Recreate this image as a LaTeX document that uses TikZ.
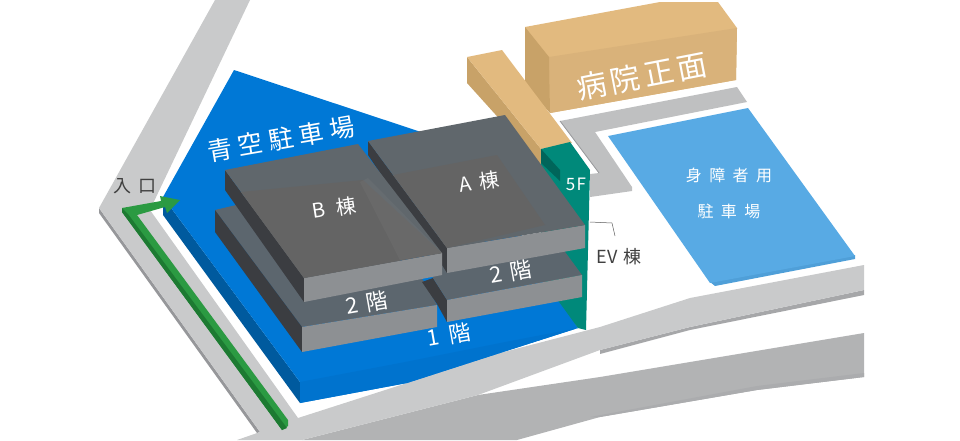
\documentclass[tikz,border=0pt]{standalone}
\usepackage{fontspec}
\setmainfont{Noto Sans CJK JP}
\usepackage{tikz}
\definecolor{roadlight}{HTML}{C9CACB}
\definecolor{roaddark}{HTML}{B2B3B4}
\definecolor{roadedge}{HTML}{96979A}
\definecolor{lotblue}{HTML}{0078D6}
\definecolor{lotfront}{HTML}{0073CE}
\definecolor{lotside}{HTML}{005A9E}
\definecolor{parkblue}{HTML}{58AAE4}
\definecolor{parkedge}{HTML}{4F9FD8}
\definecolor{tantop}{HTML}{E2BA7F}
\definecolor{tanside}{HTML}{C8A268}
\definecolor{evtop}{HTML}{00897A}
\definecolor{evside}{HTML}{00655A}
\definecolor{slabband}{HTML}{60676C}
\definecolor{slabinner}{HTML}{646464}
\definecolor{slabside}{HTML}{3B3D41}
\definecolor{slabfront}{HTML}{8D9093}
\definecolor{floortop}{HTML}{5C666E}
\definecolor{arrowgreen}{HTML}{2B9A42}
\definecolor{arrowdark}{HTML}{1D7A32}
\tikzset{
  lab/.style={text=white,inner sep=0pt},
  darklab/.style={text=black!75,inner sep=0pt},
}
\newcommand{\fs}[2]{\fontsize{#1}{#1}\selectfont\addfontfeature{LetterSpace=#2}}
\begin{document}
\begin{tikzpicture}[x=1pt,y=-1pt]
\useasboundingbox (0,0) rectangle (960,440);
% roads
\fill[roaddark] (478,395)--(600,377)--(690,362)--(864,333)--(864,377)--(757,390)--(600,417)--(517,440)--(302,440)--cycle;
\fill[roadedge!80] (864,373)--(864,377)--(757,390)--(600,417)--(590,417)--(757,386)--cycle;
\fill[roadedge] (99,208)--(260,432)--(257,433)--(99,213)--cycle;
\fill[roadedge!85] (864,290)--(864,295)--(690,330)--(600,354)--(600,350)--(690,327)--cycle;
\fill[roadlight] (215,0)--(250,0)--(158,193)--(150,210)--(298,418)--(407,383)--(500,353)--(600,327)--(690,298)--(864,265)--(864,290)--(690,327)--(600,350)--(478,395)--(302,440)--(237,440)--(260,432)--(99,208)--cycle;
% L shaped road
\fill[roadlight!95!black] (560,121)--(737,87)--(747,102)--(595,132)--(632,187)--(632,191)--(590,197)--(590,174)--(599,173)--cycle;
\draw[roadedge,line width=0.8pt] (560,121)--(599,173);
% disabled parking
\fill[parkedge] (710,282)--(855,255)--(855,259)--(715,286)--cycle;
\fill[parkblue] (608,136)--(748,108)--(855,256)--(710,283)--cycle;
% main hospital
\fill[tantop] (525,27)--(660,2)--(718,2)--(737,28)--(736,80)--(550,113)--cycle;
\fill[tantop!96!black] (549,57)--(737,28)--(736,80)--(550,113)--cycle;
\fill[tanside] (525,27)--(549,57)--(550,113)--(525,85)--cycle;
% corridor
\fill[tanside] (467,57)--(467,83)--(541,165)--(541,149)--cycle;
\fill[tantop] (467,57)--(502,50)--(572,143)--(541,149)--cycle;
% blue lot
\fill[lotside] (163,197)--(300,382)--(300,403)--(163,215)--cycle;
\fill[lotblue] (163,197)--(234,70)--(430,135)--(500,200)--(578,328)--(500,353)--(407,383)--(300,403)--(300,382)--cycle;
\fill[lotfront] (300,382)--(400,363)--(500,343)--(578,328)--(500,353)--(407,383)--(300,403)--cycle;
% EV
\fill[evtop] (541,149)--(570,142)--(590,170)--(586,330)--(578,328)--(541,277)--cycle;
\fill[evside] (541,149)--(560,170)--(560,181)--(541,163)--cycle;
% second floors
\coordinate (sa) at (215,210); \coordinate (sb) at (302,327); \coordinate (sc) at (437,305);
\fill[floortop] (sa)--(300,190)--(423,280)--(sc)--(sb)--cycle;
\fill[slabside] (sa)--(sb)--(302,352)--(215,232)--cycle;
\fill[slabfront] (sb)--(sc)--(437,327)--(302,352)--cycle;
\coordinate (ra) at (433,278); \coordinate (rb) at (447,300); \coordinate (rc) at (582,275);
\fill[slabside] (422,282)--(ra)--(rb)--(447,322)--(437,304)--cycle;
\fill[floortop] (ra)--(430,240)--(560,245)--(rc)--(rb)--cycle;
\fill[slabfront] (rb)--(rc)--(582,297)--(447,322)--cycle;
% A block
\coordinate (aa) at (368,141); \coordinate (ab) at (505,115); \coordinate (ac) at (585,225); \coordinate (ad) at (447,248);
\fill[slabside] (aa)--(ad)--(447,273)--(442,265)--(368,155)--cycle;
\fill[slabfront] (ad)--(ac)--(585,248)--(447,273)--cycle;
\fill[slabband] (aa)--(ab)--(ac)--(ad)--cycle;
\fill[slabinner] (393,175)--(497,155)--(545,225)--(447,248)--cycle;
% B block
\coordinate (ba) at (225,170); \coordinate (bb) at (358,144); \coordinate (bc) at (442,253); \coordinate (bd) at (304,278);
\fill[slabside] (ba)--(bd)--(304,302)--(225,190)--cycle;
\fill[slabfront] (bd)--(bc)--(442,275)--(304,302)--cycle;
\fill[slabband] (ba)--(bb)--(bc)--(bd)--cycle;
\fill[slabinner] (241,192)--(363,180)--(bc)--(bd)--cycle;
\fill[gray!90,opacity=.15] (360,182)--(368,178)--(bc)--(400,260)--cycle;
% entrance arrow
\fill[arrowgreen] (122,208)--(161,201)--(160,196)--(180,200)--(167,213)--(165,207)--(137,215)--(288,420)--(288,426)--(282,430)--(122,212)--cycle;
\fill[arrowdark] (122,208)--(128,214)--(287,428)--(282,430)--(122,212)--cycle;
% labels
\node[lab,rotate=10] (parkname) at (281,139) {\fs{25}{24}青空駐車場};
\node[lab,rotate=11] (frontname) at (642,76) {\fs{30}{14}病院正面};
\node[lab,rotate=9] (ablock) at (479,182) {\fs{20}{0}A\hspace{8pt}棟};
\node[lab,rotate=9] (bblock) at (334,208) {\fs{20}{0}B\hspace{11pt}棟};
\node[lab,rotate=10] (bfloor) at (367,303) {\fs{22}{0}2\hspace{8pt}階};
\node[lab,rotate=10] (afloor) at (511,272) {\fs{22}{0}2\hspace{8pt}階};
\node[lab,rotate=10] (ground) at (449,335) {\fs{22}{0}1\hspace{10pt}階};
\node[lab] (fivef) at (576,184) {\fs{17}{8}5F};
\node[lab] (parkone) at (729,175) {\fs{16}{46}身障者用};
\node[lab] (parktwo) at (729,211) {\fs{16}{46}駐車場};
\node[darklab] (evname) at (619,257) {\fs{18}{0}EV\hspace{6pt}棟};
\node[darklab] (entry) at (135,186) {\fs{18}{0}入\hspace{8pt}口};
\coordinate (evtip) at (590,222);
\draw[black!65,line width=0.5pt] (evtip)--(612,223)--(615,236);
\end{tikzpicture}
\end{document}
